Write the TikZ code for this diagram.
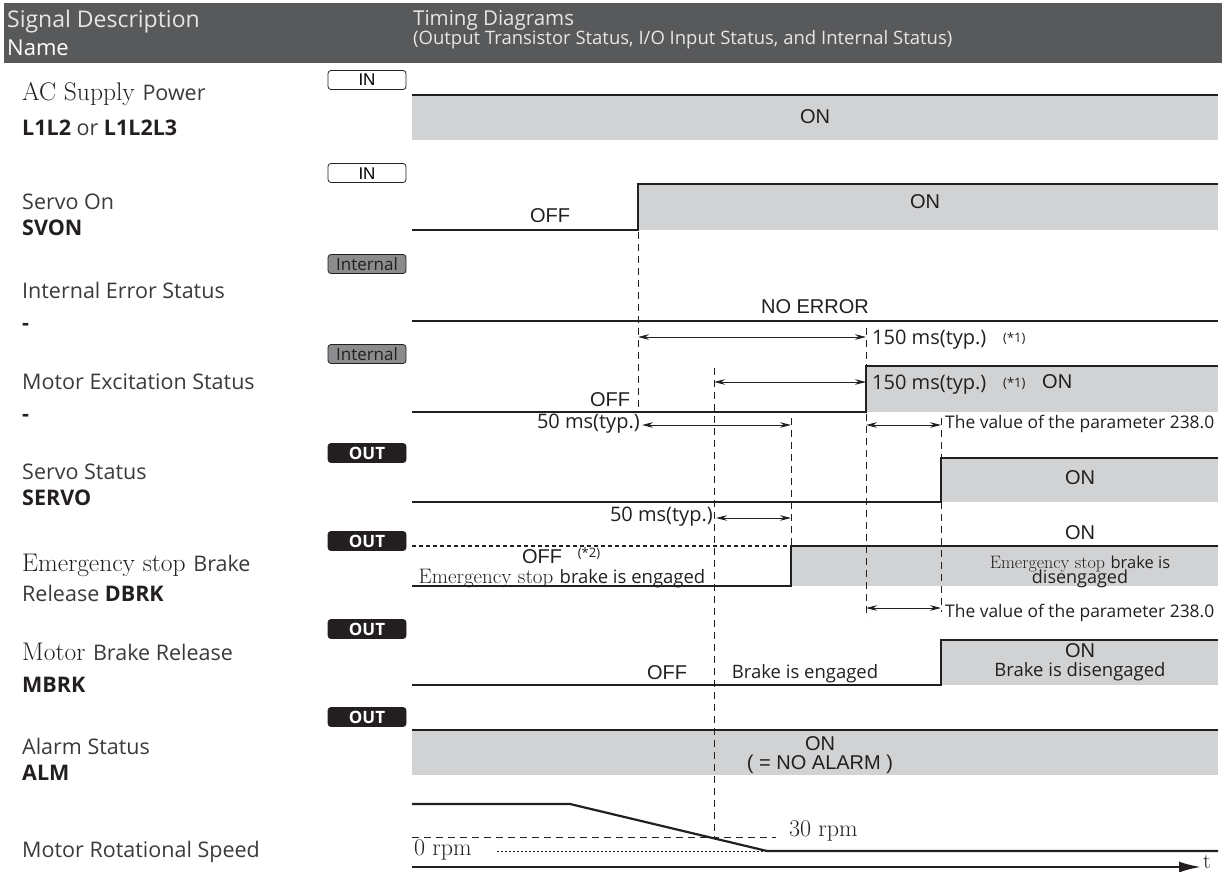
\documentclass[tikz,border=0pt]{standalone}
\usepackage{fontspec}
\newfontfamily\hsfam{Open Sans}
\newfontfamily\arfam{Liberation Sans}
\usetikzlibrary{arrows.meta}
\definecolor{ink}{HTML}{231F20}
\definecolor{hdr}{HTML}{58595B}
\definecolor{hdrtxt}{HTML}{E6E6E6}
\definecolor{ongray}{HTML}{D1D2D4}
\definecolor{intgray}{HTML}{8C8C8E}
\definecolor{labtxt}{HTML}{3A3A3A}
\newcommand\lbf{\hsfam\fontsize{21.5}{23}\selectfont}
\newcommand\srf{\rmfamily\fontsize{25.5}{26}\selectfont}
\newcommand\arf{\arfam\fontsize{20}{21}\selectfont}
\newcommand\smf{\hsfam\fontsize{18.5}{20}\selectfont}
\newcommand\tnf{\hsfam\fontsize{13}{14}\selectfont}
\newcommand\msf{\hsfam\fontsize{20}{22}\selectfont}
\newcommand\pvf{\hsfam\fontsize{17.4}{19}\selectfont}
\newcommand\rpmf{\rmfamily\fontsize{24}{25}\selectfont}
\begin{document}
\begin{tikzpicture}[x=1pt,y=-1pt,
  sig/.style={draw=ink, line width=2.2pt, line join=miter},
  onfill/.style={fill=ongray},
  vdash/.style={draw=ink, line width=0.9pt, dash pattern=on 7pt off 5pt},
  dimarrow/.style={draw=ink, line width=0.9pt, {Stealth[length=11pt,width=5.5pt]}-{Stealth[length=11pt,width=5.5pt]}},
  tagbox/.style={rounded corners=3pt, minimum width=78pt, minimum height=19pt, text height=12pt, text depth=0pt, inner sep=0pt, line width=0.8pt, draw=ink},
  tagin/.style={tagbox, fill=white, font=\arfam\fontsize{17}{17}\selectfont},
  tagint/.style={tagbox, fill=intgray, text=ink, font=\hsfam\fontsize{17}{17}\selectfont},
  tagout/.style={tagbox, fill=ink, text=white, font=\hsfam\bfseries\fontsize{17}{17}\selectfont},
  lab/.style={anchor=base west, inner sep=0pt, text=labtxt},
  txt/.style={inner sep=0pt, text=ink}
]
\useasboundingbox (0,0) rectangle (1227,872);
% header
\fill[hdr] (4,3) rectangle (1222,63);
\node[lab, text=hdrtxt, font=\hsfam\fontsize{23}{24}\selectfont] (h1) at (7,28) {Signal Description};
\node[lab, text=white, font=\hsfam\fontsize{22}{24}\selectfont] (h2) at (7,56) {Name};
\node[lab, text=hdrtxt, font=\hsfam\fontsize{20.5}{22}\selectfont] (h3) at (413,26) {Timing Diagrams};
\node[lab, text=hdrtxt, font=\hsfam\fontsize{18.5}{19}\selectfont] (h4) at (413,45) {(Output Transistor Status, I/O Input Status, and Internal Status)};
% left labels
\node[lab] (l1a) at (22,101) {\srf\color{ink}AC Supply \lbf\color{labtxt}Power};
\node[lab] (l1b) at (22,136) {\lbf\textbf{\color{ink}L1L2} or \textbf{\color{ink}L1L2L3}};
\node[lab] (l2a) at (22,209) {\lbf Servo On};
\node[lab] (l2b) at (22,235) {\lbf\bfseries\color{ink}SVON};
\node[lab] (l3a) at (22,298) {\lbf Internal Error Status};
\node[lab] (l3b) at (22,330) {\lbf\bfseries\color{ink}-};
\node[lab] (l4a) at (22,389) {\lbf Motor Excitation Status};
\node[lab] (l4b) at (22,421) {\lbf\bfseries\color{ink}-};
\node[lab] (l5a) at (22,479) {\lbf Servo Status};
\node[lab] (l5b) at (22,505) {\lbf\bfseries\color{ink}SERVO};
\node[lab] (l6a) at (22,571) {\srf\color{ink}Emergency stop \lbf\color{labtxt}Brake};
\node[lab] (l6b) at (22,601) {\lbf Release \textbf{\color{ink}DBRK}};
\node[lab] (l7a) at (22,660) {\srf\color{ink}Motor \lbf\color{labtxt}Brake Release};
\node[lab] (l7b) at (22,692) {\lbf\bfseries\color{ink}MBRK};
\node[lab] (l8a) at (22,754) {\lbf Alarm Status};
\node[lab] (l8b) at (22,780) {\lbf\bfseries\color{ink}ALM};
\node[lab] (l9a) at (22,857) {\lbf Motor Rotational Speed};
% tags
\node[tagin] (t1) at (367,80) {IN};
\node[tagin] (t2) at (367,173) {IN};
\node[tagint] (t3) at (367,264) {Internal};
\node[tagint] (t4) at (367,354) {Internal};
\node[tagout] (t5) at (367,453) {OUT};
\node[tagout] (t6) at (367,541) {OUT};
\node[tagout] (t7) at (367,629) {OUT};
\node[tagout] (t8) at (367,717) {OUT};
% fills
\fill[onfill] (412,95) rectangle (1218,140);
\fill[onfill] (638,184) rectangle (1218,230);
\fill[onfill] (866,366) rectangle (1218,412);
\fill[onfill] (941,458) rectangle (1218,502);
\fill[onfill] (791,546) rectangle (1218,586);
\fill[onfill] (941,640) rectangle (1218,685);
\fill[onfill] (412,730) rectangle (1218,775);
% dashed verticals
\draw[vdash] (638,232) -- (638,411);
\draw[vdash] (714,368) -- (714,837);
\draw[vdash] (791,418) -- (791,546);
\draw[vdash] (866,328) -- (866,366);
\draw[vdash] (866,414) -- (866,618);
\draw[vdash] (941,418) -- (941,612);
% waveforms
\draw[sig] (412,95) -- (1218,95);
\draw[sig] (412,230) -- (638,230) -- (638,184) -- (1218,184);
\draw[sig] (412,321) -- (1218,321);
\draw[sig] (412,412) -- (866,412) -- (866,366) -- (1218,366);
\draw[sig] (412,502) -- (941,502) -- (941,458) -- (1218,458);
\draw[draw=ink, line width=2pt, dash pattern=on 4pt off 3pt] (412,546) -- (791,546);
\draw[sig] (412,586) -- (791,586) -- (791,546) -- (1218,546);
\draw[sig] (412,685) -- (941,685) -- (941,640) -- (1218,640);
\draw[sig] (412,730) -- (1218,730);
% speed
\draw[draw=ink, line width=0.9pt, dash pattern=on 7pt off 5pt] (412,837) -- (776,837);
\draw[draw=ink, line width=0.9pt, dash pattern=on 2pt off 2pt] (497,851) -- (767,851);
\draw[sig] (412,804) -- (570,804) -- (767,851) -- (1218,851);
\coordinate (ax0) at (412,867);
\coordinate (ax1) at (1201,867);
\draw[draw=ink, line width=2.2pt, -{Latex[length=22pt,width=11pt]}] (ax0) -- (ax1);
\node[txt, anchor=west, font=\rmfamily\fontsize{22}{23}\selectfont] (tt) at (1203,862) {t};
\node[txt, anchor=west, font=\rpmf] (r30) at (789,831) {30 rpm};
\node[txt, anchor=west, font=\rpmf] (r0) at (414,850) {0 rpm};
% dimension arrows
\draw[dimarrow] (638,337) -- (866,337);
\node[txt, anchor=base west, font=\msf] (d1) at (872,344) {150 ms(typ.)};
\node[txt, anchor=base west, font=\tnf] (d1n) at (1003,342) {(*1)};
\draw[dimarrow] (714,382) -- (866,382);
\node[txt, anchor=base west, font=\msf] (d2) at (872,389) {150 ms(typ.)};
\node[txt, anchor=base west, font=\tnf] (d2n) at (1003,387) {(*1)};
\node[txt, anchor=base west, font=\arf] (d2on) at (1042,388) {ON};
\draw[dimarrow] (642,425) -- (791,425);
\node[txt, anchor=east, font=\msf] (d3) at (640,424) {50 ms(typ.)};
\draw[dimarrow] (866,425) -- (941,425);
\node[txt, anchor=west, font=\pvf] (d4) at (945,424) {The value of the parameter 238.0};
\draw[dimarrow] (716,518) -- (791,518);
\node[txt, anchor=east, font=\msf] (d5) at (713,517) {50 ms(typ.)};
\draw[dimarrow] (866,608) -- (941,608);
\node[txt, anchor=west, font=\pvf] (d6) at (945,613) {The value of the parameter 238.0};
% state texts
\node[txt, font=\arf] (s1) at (815,117) {ON};
\node[txt, font=\arf] (s2a) at (550,216) {OFF};
\node[txt, font=\arf] (s2b) at (925,202) {ON};
\node[txt, font=\arf] (s3) at (815,307) {NO ERROR};
\node[txt, font=\arf] (s4) at (610,400) {OFF};
\node[txt, font=\arf] (s5) at (1080,478) {ON};
\node[txt, font=\arf] (s6a) at (1080,533) {ON};
\node[txt, font=\arf] (s6b) at (542,557) {OFF};
\node[txt, font=\tnf] (s6c) at (589,554) {(*2)};
\node[txt] (s6d) at (562,579) {\rmfamily\fontsize{21}{22}\selectfont Emergency stop \hsfam\fontsize{18.5}{20}\selectfont brake is engaged};
\node[txt, align=center] (s6e) at (1080,572) {\rmfamily\fontsize{18}{19}\selectfont Emergency stop \hsfam\fontsize{16.5}{18}\selectfont brake is\\[-3pt]\hsfam\fontsize{18}{19}\selectfont disengaged};
\node[txt, font=\arf] (s7a) at (667,673) {OFF};
\node[txt, font=\smf] (s7b) at (805,674) {Brake is engaged};
\node[txt, font=\arf] (s7c) at (1080,651) {ON};
\node[txt, font=\smf] (s7d) at (1080,672) {Brake is disengaged};
\node[txt, font=\arf] (s8a) at (820,744) {ON};
\node[txt, font=\arf] (s8b) at (820,764) {( = NO ALARM )};
\end{tikzpicture}
\end{document}
